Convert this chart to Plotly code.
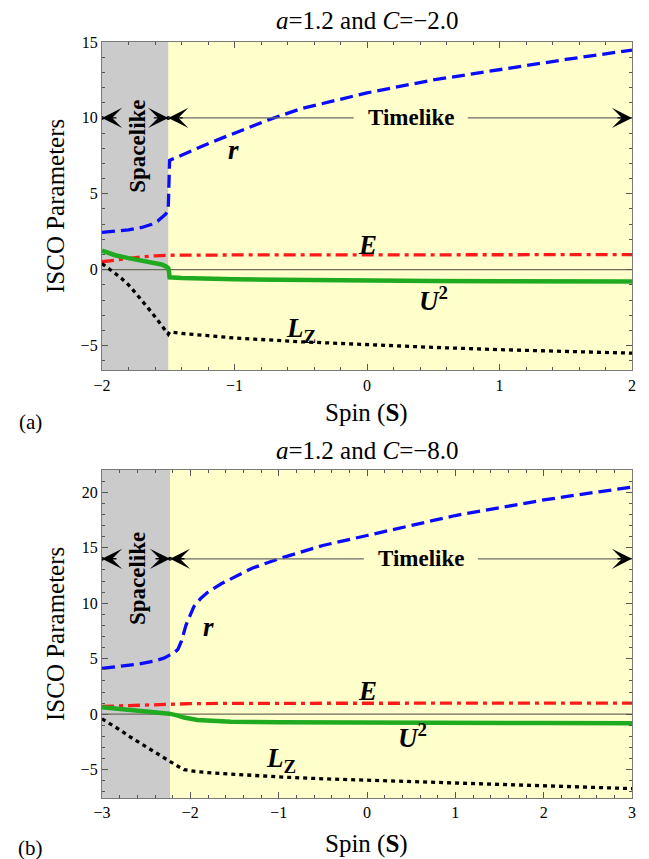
import plotly.graph_objects as go

# ---------------- Panel (a): a=1.2, C=-2.0 ----------------
a_xrange = [-2, 2]
a_yrange = [-6.63, 15]
a_boundary = -1.5          # spacelike / timelike border
a_arrow_y = 10
a_timelike_x = 0.33

a_r_S = [-2.0, -1.9, -1.8, -1.7, -1.63, -1.58, -1.55, -1.52, -1.5, -1.495, -1.49, -1.45, -1.4, -1.3, -1.2, -1.1,
         -1.0, -0.9, -0.75, -0.5, -0.25, 0.0, 0.5, 1.0, 1.5, 2.0]
a_r = [2.45, 2.52, 2.62, 2.78, 2.97, 3.2, 3.4, 3.65, 3.96, 5.5, 7.2, 7.35, 7.55, 7.95, 8.3, 8.65,
       9.0, 9.35, 9.85, 10.6, 11.15, 11.65, 12.5, 13.2, 13.85, 14.47]

a_E_S = [-2.0, -1.9, -1.8, -1.7, -1.6, -1.5, -1.0, 0.0, 1.0, 2.0]
a_E = [0.52, 0.64, 0.75, 0.84, 0.91, 0.95, 0.97, 0.98, 0.99, 0.99]

a_U_S = [-2.0, -1.95, -1.9, -1.8, -1.7, -1.6, -1.55, -1.52, -1.5, -1.495, -1.49, -1.4, -1.27, -1.0, -0.67,
         -0.14, 0.5, 1.0, 1.5, 2.0]
a_U = [1.25, 1.08, 0.95, 0.76, 0.6, 0.45, 0.34, 0.22, 0.1, -0.1, -0.5, -0.55, -0.59, -0.63, -0.66,
       -0.72, -0.74, -0.76, -0.77, -0.78]

a_L_S = [-2.0, -1.95, -1.9, -1.85, -1.8, -1.75, -1.7, -1.65, -1.6, -1.55, -1.5, -1.49, -1.4, -1.2, -1.0,
         -0.5, 0.0, 0.5, 1.0, 1.5, 2.0]
a_L = [0.4, 0.1, -0.25, -0.6, -1.0, -1.5, -2.0, -2.55, -3.1, -3.7, -4.25, -4.1, -4.2, -4.35, -4.5,
       -4.75, -4.95, -5.12, -5.27, -5.4, -5.5]

a_labels = [("<b><i>r</i></b>", -1.01, 7.9), ("<b><i>E</i></b>", 0.0, 1.65),
            ("<b><i>U</i><sup>2</sup></b>", 0.5, -1.95), ("<b><i>L</i><sub>Z</sub></b>", -0.5, -3.95)]
a_space_label = (-1.73, 8.15)

# ---------------- Panel (b): a=1.2, C=-8.0 ----------------
b_xrange = [-3, 3]
b_yrange = [-7.55, 22]
b_boundary = -2.23
b_arrow_y = 14
b_timelike_x = 0.61

b_r_S = [-3.0, -2.8, -2.6, -2.4, -2.3, -2.24, -2.18, -2.14, -2.1, -2.05, -2.0, -1.96, -1.88, -1.8, -1.65,
         -1.54, -1.3, -1.0, -0.5, 0.0, 0.5, 1.0, 1.5, 2.0, 2.5, 3.0]
b_r = [4.13, 4.3, 4.5, 4.8, 5.05, 5.3, 5.55, 5.85, 6.6, 8.0, 9.0, 9.7, 10.45, 11.0, 11.75,
       12.2, 13.15, 14.0, 15.2, 16.1, 17.0, 17.9, 18.6, 19.3, 19.9, 20.45]

b_E_S = [-3.0, -2.8, -2.6, -2.4, -2.2, -2.0, -1.5, 0.0, 3.0]
b_E = [0.7, 0.76, 0.82, 0.87, 0.92, 0.95, 0.98, 0.99, 1.0]

b_U_S = [-3.0, -2.8, -2.6, -2.4, -2.24, -2.15, -2.07, -1.92, -1.7, -1.54, -1.0, -0.6, 0.0, 1.0, 2.0, 3.0]
b_U = [0.63, 0.5, 0.38, 0.22, 0.05, -0.1, -0.3, -0.52, -0.63, -0.68, -0.73, -0.75, -0.77, -0.79, -0.8, -0.82]

b_L_S = [-3.0, -2.9, -2.8, -2.67, -2.5, -2.35, -2.24, -2.15, -2.07, -1.9, -1.73, -1.5, -1.0, -0.5, 0.0,
         1.0, 2.0, 3.0]
b_L = [-0.42, -0.9, -1.4, -2.1, -2.95, -3.65, -4.2, -4.65, -5.0, -5.2, -5.3, -5.42, -5.65, -5.82, -5.95,
       -6.2, -6.45, -6.7]

b_labels = [("<b><i>r</i></b>", -1.8, 7.9), ("<b><i>E</i></b>", 0.0, 2.05),
            ("<b><i>U</i><sup>2</sup></b>", 0.51, -2.0), ("<b><i>L</i><sub>Z</sub></b>", -0.97, -4.1)]
b_space_label = (-2.6, 12.2)

a_xticks = [-2, -1, 0, 1, 2]
a_yticks = [-5, 0, 5, 10, 15]
b_xticks = [-3, -2, -1, 0, 1, 2, 3]
b_yticks = [-5, 0, 5, 10, 15, 20]


def fmt(v):
    return ("\u2212" + str(abs(v))) if v < 0 else str(v)


FONT = "Liberation Serif"
BLUE, RED, GREEN, BLACK = "#0a0aff", "#ff1a1a", "#20aa20", "#000000"
GRAYBG, YELLOW = "#cbcbcb", "#ffffcc"

fig = go.Figure()


def add_panel(xa, ya, S_r, r, S_E, E, S_U, U, S_L, L):
    fig.add_trace(go.Scatter(x=S_r, y=r, mode="lines", xaxis=xa, yaxis=ya,
                             line=dict(color=BLUE, width=3.3, dash="13px,6px"), hoverinfo="skip"))
    fig.add_trace(go.Scatter(x=S_E, y=E, mode="lines", xaxis=xa, yaxis=ya,
                             line=dict(color=RED, width=3.3, dash="12px,5px,4px,5px"), hoverinfo="skip"))
    fig.add_trace(go.Scatter(x=S_U, y=U, mode="lines", xaxis=xa, yaxis=ya,
                             line=dict(color=GREEN, width=4.5), hoverinfo="skip"))
    fig.add_trace(go.Scatter(x=S_L, y=L, mode="lines", xaxis=xa, yaxis=ya,
                             line=dict(color=BLACK, width=3.3, dash="4px,4px"), hoverinfo="skip"))


add_panel("x", "y", a_r_S, a_r, a_E_S, a_E, a_U_S, a_U, a_L_S, a_L)
add_panel("x2", "y2", b_r_S, b_r, b_E_S, b_E, b_U_S, b_U, b_L_S, b_L)

shapes = []
annotations = []


def panel_deco(xr, ar, xrange, boundary, arrow_y, tl_x, gap_px_half, pxunit, labels, space):
    # gray spacelike region
    shapes.append(dict(type="rect", xref=xr, yref=ar + " domain", x0=xrange[0], x1=boundary, y0=0, y1=1,
                       fillcolor=GRAYBG, line=dict(width=0), layer="below"))
    # zero line
    shapes.append(dict(type="line", xref=xr + " domain", yref=ar, x0=0, x1=1, y0=0, y1=0,
                       line=dict(color="#6b6b5a", width=1.3), layer="below"))
    # timelike arrow line with gap for text
    gap = gap_px_half / pxunit
    shapes.append(dict(type="line", xref=xr, yref=ar, x0=boundary, x1=tl_x - gap, y0=arrow_y, y1=arrow_y,
                       line=dict(color="#6b6b6b", width=1.2)))
    shapes.append(dict(type="line", xref=xr, yref=ar, x0=tl_x + gap, x1=xrange[1], y0=arrow_y, y1=arrow_y,
                       line=dict(color="#6b6b6b", width=1.2)))
    # arrow heads
    for tip, dirn in [(xrange[0], 1), (boundary, -1), (boundary, 1), (xrange[1], -1)]:
        annotations.append(dict(x=tip, y=arrow_y, xref=xr, yref=ar, text="", showarrow=True,
                                ax=16 * dirn, ay=0, arrowhead=3, arrowsize=2.4, arrowwidth=1.4,
                                arrowcolor="black", standoff=0))
    annotations.append(dict(x=tl_x, y=arrow_y, xref=xr, yref=ar, text="<b>Timelike</b>", showarrow=False,
                            font=dict(family=FONT, size=23, color="black")))
    annotations.append(dict(x=space[0], y=space[1], xref=xr, yref=ar, text="<b>Spacelike</b>", showarrow=False,
                            textangle=-90, font=dict(family=FONT, size=23, color="black")))
    for txt, lx, ly in labels:
        annotations.append(dict(x=lx, y=ly, xref=xr, yref=ar, text=txt, showarrow=False,
                                font=dict(family=FONT, size=27, color="black")))


panel_deco("x", "y", a_xrange, a_boundary, a_arrow_y, a_timelike_x, 57, 132.4, a_labels, a_space_label)
panel_deco("x2", "y2", b_xrange, b_boundary, b_arrow_y, b_timelike_x, 57, 88.3, b_labels, b_space_label)

# end dots of the arrows
fig.add_trace(go.Scatter(x=[a_xrange[0], a_boundary], y=[a_arrow_y, a_arrow_y], mode="markers", xaxis="x",
                         yaxis="y", marker=dict(color="black", size=4), hoverinfo="skip"))
fig.add_trace(go.Scatter(x=[b_xrange[0], b_boundary], y=[b_arrow_y, b_arrow_y], mode="markers", xaxis="x2",
                         yaxis="y2", marker=dict(color="black", size=4), hoverinfo="skip"))

# titles / axis titles / panel tags (paper coordinates)
L_M, R_M, T_M, B_M = 94, 25, 34, 69
W, H = 649, 859
PW, PH = W - L_M - R_M, H - T_M - B_M


def px(xp):
    return (xp - L_M) / PW


def py(yp):
    return (H - B_M - yp) / PH


txt_font = dict(family=FONT, size=25, color="black")
for t, yy in [("<i>a</i>=1.2 and <i>C</i>=\u22122.0", 12), ("<i>a</i>=1.2 and <i>C</i>=\u22128.0", 443)]:
    annotations.append(dict(x=px(359), y=py(yy), xref="paper", yref="paper", text=t, showarrow=False,
                            font=txt_font, xanchor="center", yanchor="middle"))
for yy in [405, 836]:
    annotations.append(dict(x=px(358), y=py(yy), xref="paper", yref="paper", text="Spin (<b>S</b>)",
                            showarrow=False, font=txt_font, xanchor="center", yanchor="middle"))
for yy in [198, 626]:
    annotations.append(dict(x=px(47), y=py(yy), xref="paper", yref="paper", text="ISCO Parameters",
                            showarrow=False, font=txt_font, textangle=-90, xanchor="center", yanchor="middle"))
for t, yy in [("(a)", 414), ("(b)", 840)]:
    annotations.append(dict(x=px(22), y=py(yy), xref="paper", yref="paper", text=t, showarrow=False,
                            font=dict(family=FONT, size=21, color="black"), xanchor="center", yanchor="middle"))

tickfont = dict(family=FONT, size=16, color="black")


def xax(rng, ticks, anchor, minor_dt):
    return dict(range=rng, anchor=anchor, domain=[0, 1], tickvals=ticks, ticktext=[fmt(v) for v in ticks],
                ticks="inside", ticklen=6, tickwidth=1, tickcolor="#555", showline=True, linecolor="#7a7a7a",
                linewidth=1.3, mirror="allticks", showgrid=False, zeroline=False, tickfont=tickfont,
                minor=dict(ticks="inside", ticklen=3, tickwidth=1, tickcolor="#555", dtick=minor_dt,
                           showgrid=False))


def yax(rng, ticks, anchor, dom, minor_dt):
    d = xax(rng, ticks, anchor, minor_dt)
    d["domain"] = dom
    return d


top_dom = [py(362.3), 1]
bot_dom = [0, py(462)]

fig.update_layout(
    width=W, height=H,
    margin=dict(l=L_M, r=R_M, t=T_M, b=B_M),
    paper_bgcolor="white", plot_bgcolor=YELLOW,
    showlegend=False,
    xaxis=xax(a_xrange, a_xticks, "y", 0.2),
    yaxis=yax(a_yrange, a_yticks, "x", top_dom, 1),
    xaxis2=xax(b_xrange, b_xticks, "y2", 0.2),
    yaxis2=yax(b_yrange, b_yticks, "x2", bot_dom, 1),
    shapes=shapes,
    annotations=annotations,
)

fig.write_html("out.html")
